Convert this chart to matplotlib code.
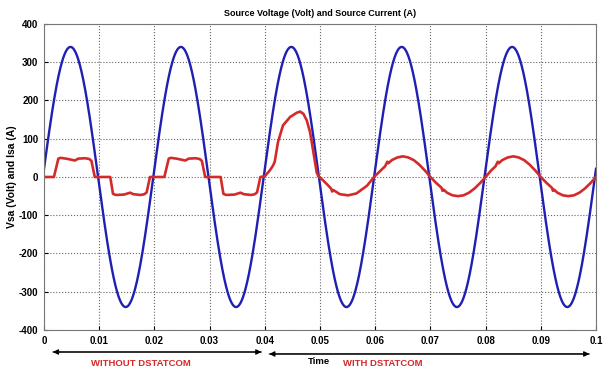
import matplotlib.pyplot as plt
import numpy as np

plt.rcParams['font.family'] = ['Liberation Sans', 'DejaVu Sans']
plt.rcParams['axes.unicode_minus'] = False

# source voltage: 50 Hz, peak 340 V, small phase lead
v_peak = 340
f_line = 50
v_lead = 0.0002

# source current samples (time in s, current in A)
# 0 - 0.04 s : without DSTATCOM (quasi-square load current)
# 0.04 - 0.06 s : transient after switching in
# 0.06 - 0.1 s : compensated, sinusoidal, in phase with voltage
t_cur = [0.0000, 0.0018, 0.0026, 0.0030, 0.0040, 0.0050, 0.0056, 0.0062, 0.0075, 0.0082, 0.0086, 0.0092,
         0.0120, 0.0125, 0.0130, 0.0145, 0.0156, 0.0162, 0.0175, 0.0182, 0.0186, 0.0192,
         0.0218, 0.0226, 0.0230, 0.0240, 0.0250, 0.0256, 0.0262, 0.0275, 0.0282, 0.0286, 0.0292,
         0.0320, 0.0325, 0.0330, 0.0345, 0.0356, 0.0362, 0.0375, 0.0382, 0.0386, 0.0392,
         0.0400, 0.0409, 0.0415, 0.0418, 0.0424, 0.0433, 0.0446, 0.0458, 0.0464, 0.0470, 0.0476,
         0.0482, 0.0488, 0.0494, 0.0497, 0.0505, 0.0512, 0.0520, 0.0522, 0.0524, 0.0536, 0.0551,
         0.0566, 0.0585, 0.0598,
         0.0610, 0.0618, 0.0622, 0.0624, 0.0630, 0.0640, 0.0650, 0.0660, 0.0670, 0.0680, 0.0690, 0.0700,
         0.0710, 0.0720, 0.0722, 0.0724, 0.0730, 0.0740, 0.0750, 0.0760, 0.0770, 0.0780, 0.0790, 0.0800,
         0.0810, 0.0818, 0.0822, 0.0824, 0.0830, 0.0840, 0.0850, 0.0860, 0.0870, 0.0880, 0.0890, 0.0900,
         0.0910, 0.0920, 0.0922, 0.0924, 0.0930, 0.0940, 0.0950, 0.0960, 0.0970, 0.0980, 0.0990, 0.1000]
i_cur = [0, 0, 48, 50, 48, 45, 43, 48, 49, 47, 42, 0,
         0, -44, -47, -46, -41, -45, -47, -45, -40, 0,
         0, 48, 50, 48, 45, 43, 48, 49, 47, 42, 0,
         0, -44, -47, -46, -41, -45, -47, -45, -40, 0,
         2, 17, 30, 40, 92, 135, 157, 168, 171, 165, 148,
         117, 65, 12, 2, -8, -18, -30, -38, -34, -45, -48,
         -43, -23, 0,
         17, 28, 40, 36, 44, 51, 54, 51, 44, 32, 17, 0,
         -15, -28, -36, -33, -41, -48, -50, -48, -41, -30, -16, 0,
         17, 28, 40, 36, 44, 51, 54, 51, 44, 32, 17, 0,
         -15, -28, -36, -33, -41, -48, -50, -48, -41, -30, -16, 0]

x_ticks = [0, 0.01, 0.02, 0.03, 0.04, 0.05, 0.06, 0.07, 0.08, 0.09, 0.1]
x_labels = ['0', '0.01', '0.02', '0.03', '0.04', '0.05', '0.06', '0.07', '0.08', '0.09', '0.1']
y_ticks = [-400, -300, -200, -100, 0, 100, 200, 300, 400]

t = np.linspace(0, 0.1, 2001)
vsa = v_peak * np.sin(2 * np.pi * f_line * (t + v_lead))

fig = plt.figure(figsize=(6.06, 3.73), dpi=100)
ax = fig.add_axes([0.0726, 0.1153, 0.9109, 0.8204])

ax.plot(t, vsa, color='#1f1fb4', linewidth=1.7)
ax.plot(t_cur, i_cur, color='#d42a2a', linewidth=1.9)

ax.set_xlim(0, 0.1)
ax.set_ylim(-400, 400)
ax.set_xticks(x_ticks)
ax.set_xticklabels(x_labels)
ax.set_yticks(y_ticks)
ax.tick_params(direction='in', length=3, labelsize=7, pad=4)
for lbl in ax.get_xticklabels() + ax.get_yticklabels():
    lbl.set_fontweight('bold')
ax.grid(True, linestyle=':', color='#666666', linewidth=0.8)
for s in ax.spines.values():
    s.set_color('#777777')
    s.set_linewidth(0.8)

ax.set_title('Source Voltage (Volt) and Source Current (A)', fontsize=6.5, fontweight='bold', pad=6)
ax.set_ylabel('Vsa (Volt) and Isa (A)', fontsize=7.5, fontweight='bold')
ax.yaxis.set_label_coords(-0.049, 0.5)

# regions below the axis
arrow = dict(arrowstyle='-|>', color='black', linewidth=0.8, mutation_scale=8)
ax.annotate('', xy=(0.0011, 0.0563), xytext=(0.0399, 0.0563),
            xycoords=('data', 'figure fraction'), textcoords=('data', 'figure fraction'),
            arrowprops=arrow, annotation_clip=False)
ax.annotate('', xy=(0.0399, 0.0563), xytext=(0.0011, 0.0563),
            xycoords=('data', 'figure fraction'), textcoords=('data', 'figure fraction'),
            arrowprops=arrow, annotation_clip=False)
ax.annotate('', xy=(0.0403, 0.051), xytext=(0.0993, 0.051),
            xycoords=('data', 'figure fraction'), textcoords=('data', 'figure fraction'),
            arrowprops=arrow, annotation_clip=False)
ax.annotate('', xy=(0.0993, 0.051), xytext=(0.0403, 0.051),
            xycoords=('data', 'figure fraction'), textcoords=('data', 'figure fraction'),
            arrowprops=arrow, annotation_clip=False)

fig.text(141 / 606, 1 - 363 / 373, 'WITHOUT DSTATCOM', color='#d42a2a', fontsize=6.8,
         fontweight='bold', ha='center', va='center')
fig.text(383 / 606, 1 - 363 / 373, 'WITH DSTATCOM', color='#d42a2a', fontsize=6.8,
         fontweight='bold', ha='center', va='center')
fig.text(319 / 606, 1 - 362 / 373, 'Time', color='black', fontsize=6.8,
         fontweight='bold', ha='center', va='center')

fig.savefig('out.png', dpi=100)
